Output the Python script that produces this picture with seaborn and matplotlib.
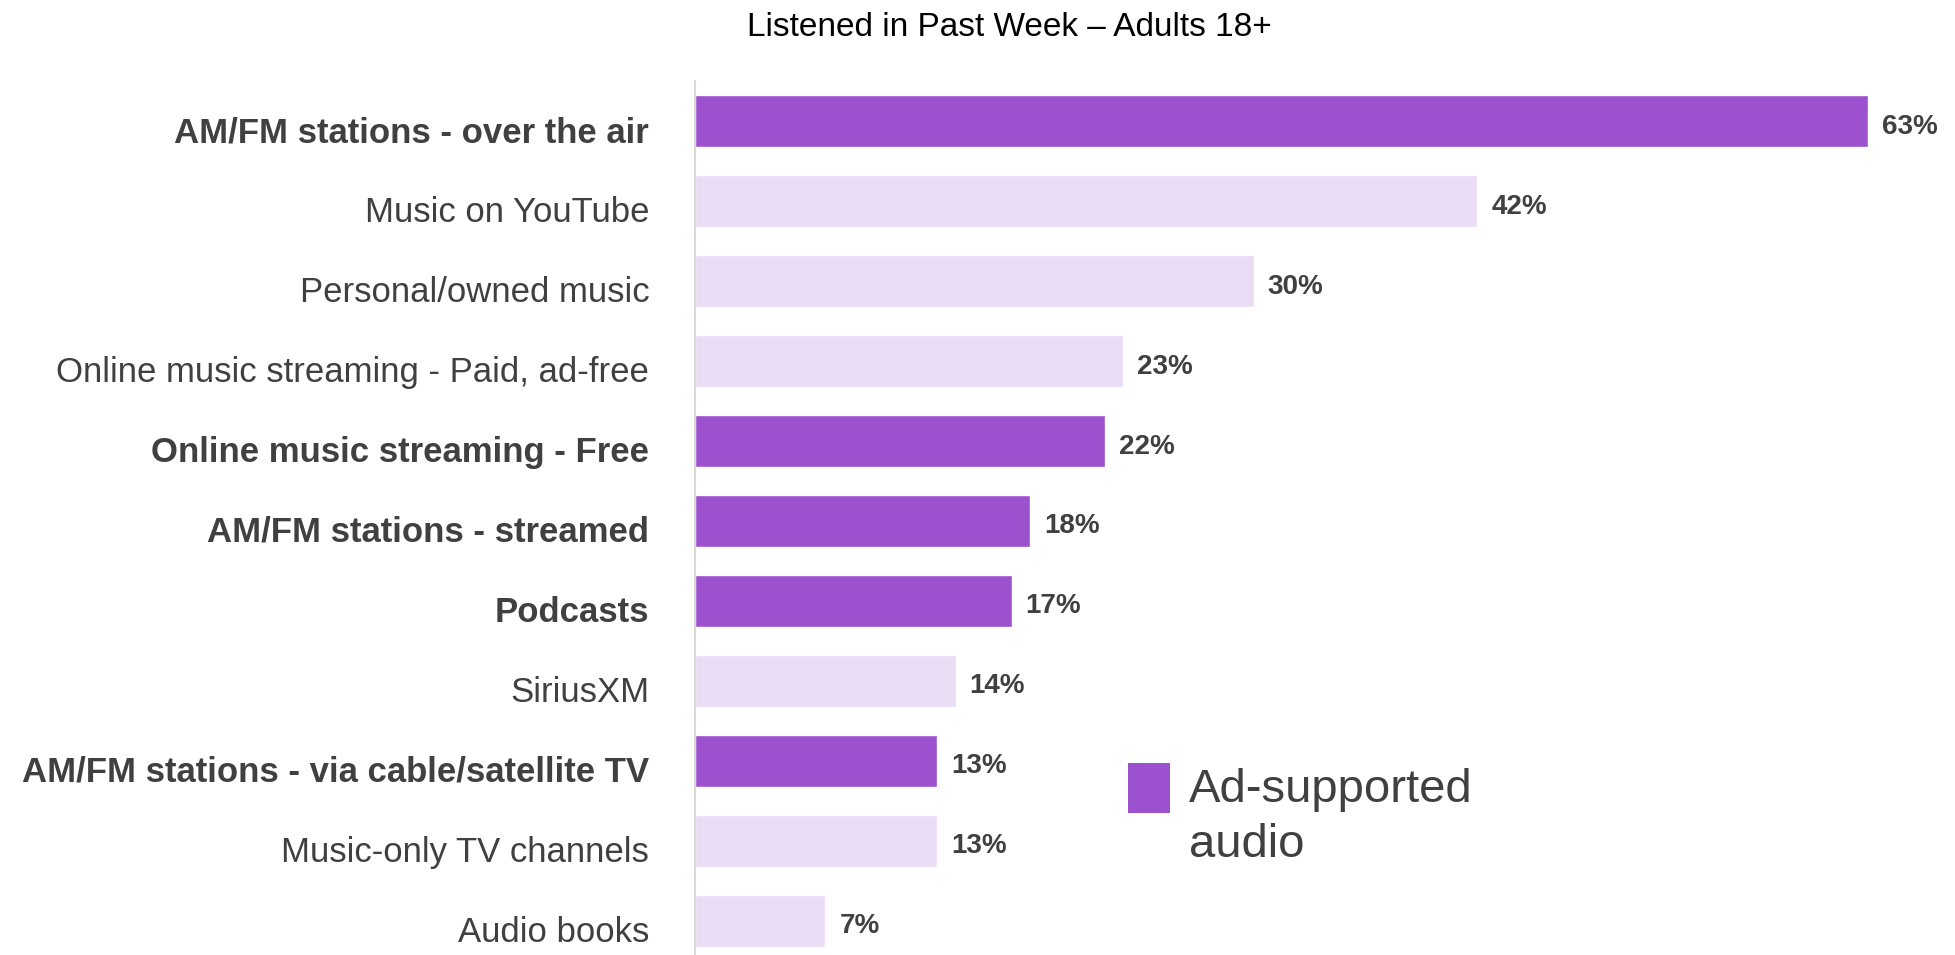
import matplotlib
matplotlib.use("Agg")
import matplotlib.pyplot as plt
from matplotlib.patches import Rectangle
import seaborn as sns
import pandas as pd

categories = [
    "AM/FM stations - over the air",
    "Music on YouTube",
    "Personal/owned music",
    "Online music streaming - Paid, ad-free",
    "Online music streaming - Free",
    "AM/FM stations - streamed",
    "Podcasts",
    "SiriusXM",
    "AM/FM stations - via cable/satellite TV",
    "Music-only TV channels",
    "Audio books",
]
values = [63, 42, 30, 23, 22, 18, 17, 14, 13, 13, 7]
ad_supported = [True, False, False, False, True, True, True, False, True, False, False]

title = "Listened in Past Week \u2013 Adults 18+"
legend_label = "Ad-supported\naudio"

DARK = "#9C52CE"
LIGHT = "#EADCF5"
TEXT = "#404040"

sns.set_theme(style="white")
plt.rcParams["font.family"] = ["Liberation Sans", "DejaVu Sans"]

df = pd.DataFrame({
    "category": categories,
    "value": values,
    "kind": ["ad" if a else "other" for a in ad_supported],
})

fig = plt.figure(figsize=(19.56, 9.55), dpi=100)
ax = fig.add_axes([0.3553, 0.0, 0.6447, 0.915])

sns.barplot(data=df, y="category", x="value", hue="kind",
            hue_order=["ad", "other"], palette={"ad": DARK, "other": LIGHT},
            dodge=False, width=0.65, orient="h", legend=False,
            saturation=1, ax=ax)

ax.set_xlim(0, 67.7)
ax.set_ylim(10.43, -0.5)
ax.set_xlabel("")
ax.set_ylabel("")
ax.set_xticks([])
for s in ["top", "right", "bottom"]:
    ax.spines[s].set_visible(False)
ax.spines["left"].set_color("#d9d9d9")
ax.spines["left"].set_linewidth(1.5)

# category labels sit slightly below the bar centres
ax.set_yticks([i + 0.1 for i in range(len(categories))])
ax.set_yticklabels(categories)
ax.tick_params(axis="y", length=0, pad=33)
for lbl, a in zip(ax.get_yticklabels(), ad_supported):
    lbl.set_fontsize(25)
    lbl.set_color(TEXT)
    lbl.set_fontweight("bold" if a else "normal")

for i, v in enumerate(values):
    ax.text(v + 0.75, i + 0.07, f"{v}%", va="center", ha="left",
            fontsize=20, fontweight="bold", color=TEXT)

fig.text(0.516, 0.971, title, ha="center", va="center", fontsize=24, color="black")

# legend key and text
fig.patches.append(Rectangle((0.5767, 0.1487), 0.0215, 0.0524,
                             transform=fig.transFigure, facecolor=DARK,
                             edgecolor="none"))
fig.text(0.6079, 0.1955, legend_label, ha="left", va="top",
         fontsize=34, color=TEXT, linespacing=1.31)

fig.savefig("out.png", dpi=100)
